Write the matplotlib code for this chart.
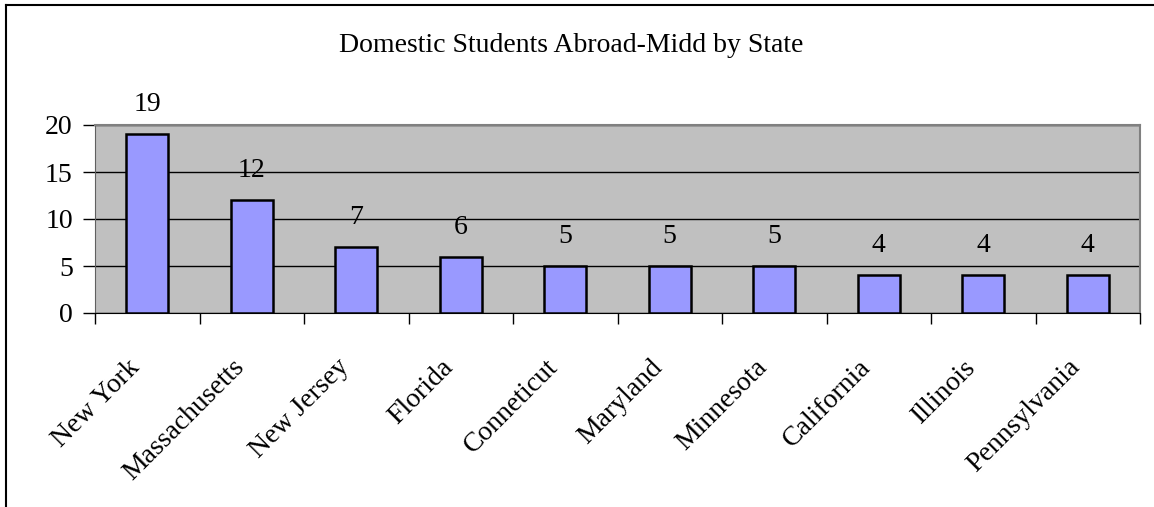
import matplotlib
matplotlib.use("Agg")
import matplotlib.pyplot as plt
from matplotlib.lines import Line2D
from matplotlib.transforms import ScaledTranslation

states = ["New York", "Massachusetts", "New Jersey", "Florida", "Conneticut",
          "Maryland", "Minnesota", "California", "Illinois", "Pennsylvania"]
students = [19, 12, 7, 6, 5, 5, 5, 4, 4, 4]
title = "Domestic Students Abroad-Midd by State"

plt.rcParams["font.family"] = ["Liberation Serif", "DejaVu Serif"]

fig = plt.figure(figsize=(11.54, 5.07), dpi=100)
ax = fig.add_axes([95 / 1154, 1 - 313 / 507, (1140 - 95) / 1154, (313 - 125) / 507])
ax.set_facecolor("#C0C0C0")

x = list(range(len(states)))
ax.bar(x, students, width=0.4, color="#9999FF", edgecolor="black", linewidth=1.8, zorder=3)
for xi, v in zip(x, students):
    ax.annotate(str(v), (xi, v), xytext=(0, 16.5), textcoords="offset points",
                ha="center", va="baseline", fontsize=20, zorder=4)

ax.set_xlim(-0.5, len(states) - 0.5)
ax.set_ylim(0, 20)
ax.set_yticks([0, 5, 10, 15, 20])
ax.yaxis.grid(True, color="black", linewidth=1)
ax.set_axisbelow(True)
ax.tick_params(axis="y", length=9, width=1, labelsize=20, pad=7)

ax.set_xticks(x)
ax.set_xticklabels(states, rotation=45, ha="right", va="top", rotation_mode="anchor", fontsize=20)
ax.set_xticks([i - 0.5 for i in range(len(states) + 1)], minor=True)
ax.tick_params(axis="x", which="major", length=0, pad=30)
ax.tick_params(axis="x", which="minor", length=8, width=1)
# labels sit a bit left of the category centre
shift = ScaledTranslation(-20 / 100, 0, fig.dpi_scale_trans)
for lbl in ax.get_xticklabels():
    lbl.set_transform(lbl.get_transform() + shift)

ax.spines["top"].set_color("#808080")
ax.spines["right"].set_color("#808080")
ax.spines["top"].set_linewidth(1.5)
ax.spines["right"].set_linewidth(1.5)
ax.spines["left"].set_color("#606060")
ax.spines["bottom"].set_color("black")

fig.text(571 / 1154, 1 - 45 / 507, title, ha="center", va="center", fontsize=20)

fig.add_artist(Line2D([6 / 1154, 6 / 1154], [0, 1 - 5 / 507], color="black", linewidth=1.5))
fig.add_artist(Line2D([6 / 1154, 1], [1 - 5 / 507, 1 - 5 / 507], color="black", linewidth=1.5))

fig.savefig("out.png", dpi=100)
